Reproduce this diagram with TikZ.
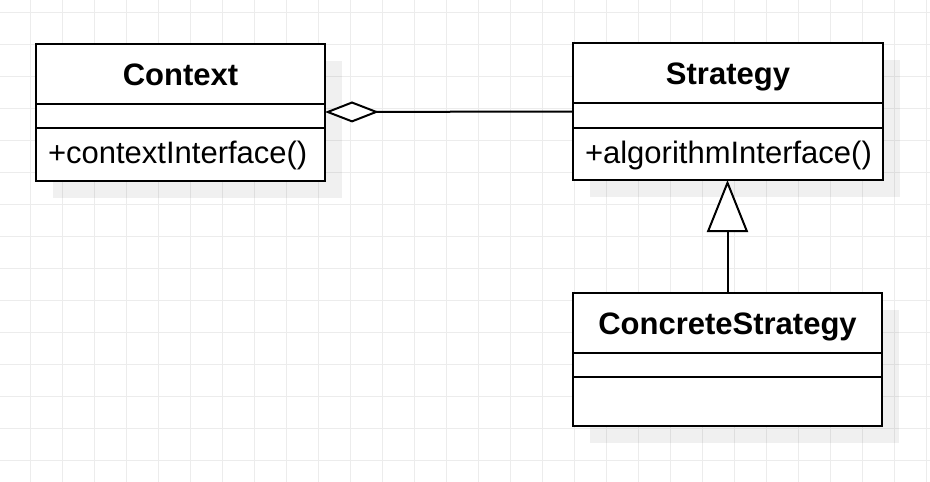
\documentclass[tikz,border=0pt]{standalone}
\usepackage{fontspec}
\setmainfont{Liberation Sans}
\usetikzlibrary{arrows.meta,positioning,fit,backgrounds,calc}
\definecolor{gridgray}{RGB}{236,236,236}
\definecolor{umlline}{RGB}{0,0,0}

\begin{document}
\begin{tikzpicture}[
  x=1pt, y=-1pt, node distance=0pt,
  cls/.style={draw=umlline, fill=white, line width=2pt, outer sep=0pt,
              font=\fontsize{31pt}{37pt}\selectfont\bfseries,
              text height=30pt, text depth=7pt,
              minimum height=60pt, inner sep=2pt},
  attr/.style={cls, font=\fontsize{31pt}{37pt}\selectfont, minimum height=24pt,
               text height=0pt, text depth=0pt},
  ops/.style={cls, font=\fontsize{31pt}{37pt}\selectfont, minimum height=52pt,
              text height=25pt, text depth=7pt,
              align=left, inner xsep=12pt},
  frame/.style={inner sep=0pt, outer sep=0pt},
  shadowbox/.style={fill=black, fill opacity=0.06},
  gridln/.style={draw=gridgray, line width=1pt},
  agg/.style={draw=umlline, line width=2pt,
              {Diamond[fill=white, length=54pt, width=21pt]}-},
  gen/.style={draw=umlline, line width=2pt,
              -{Triangle[fill=white, length=52pt, width=41pt]}}
]
\useasboundingbox (0,0) rectangle (930,482);

% ---- grid
\begin{scope}[on background layer]
\fill[white] (0,0) rectangle (930,482);
\foreach \gx in {0,...,28}
  \draw[gridln] ({30.3+32*\gx},0) -- ({30.3+32*\gx},482);
\foreach \gy in {0,...,14}
  \draw[gridln] (0,{12.3+32*\gy}) -- (930,{12.3+32*\gy});
\end{scope}

% ---- Context
\node[cls, minimum width=289pt] (ctx) at (180.5,73.5) {Context};
\node[attr, minimum width=289pt, below=of ctx] (ctxattr) {};
\node[ops, text width=265pt, minimum height=53pt, below=of ctxattr] (ctxops)
  {+contextInterface()};
\node[frame, fit=(ctx)(ctxattr)(ctxops)] (ctxbox) {};

% ---- Strategy
\node[cls, minimum width=310pt] (str) at (728,73) {Strategy};
\node[attr, minimum width=310pt, below=of str, minimum height=25pt] (strattr) {};
\node[ops, text width=286pt, below=of strattr] (strops)
  {+algorithmInterface()};
\node[frame, fit=(str)(strattr)(strops)] (strbox) {};

% ---- ConcreteStrategy
\node[cls, minimum width=309pt] (conc) at (727.5,323) {ConcreteStrategy};
\node[attr, minimum width=309pt, below=of conc] (concattr) {};
\node[ops, text width=285pt, minimum height=49pt, below=of concattr] (concops) {};
\node[frame, fit=(conc)(concattr)(concops)] (concbox) {};

% ---- shadows
\begin{scope}[on background layer]
\foreach \b in {ctxbox,strbox,concbox}
  \fill[shadowbox] ($(\b.north west)+(17,17)$) rectangle ($(\b.south east)+(17,17)$);
\end{scope}

% ---- relations
\draw[agg] (ctxbox.east) -- (strbox.west);
\draw[gen] (concbox.north) -- (concbox.north |- strbox.south);
\end{tikzpicture}
\end{document}
